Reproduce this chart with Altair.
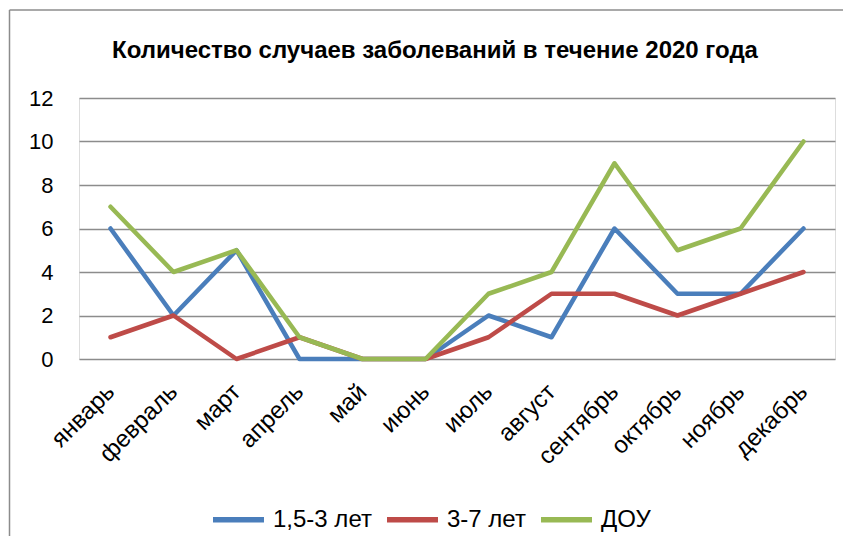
import altair as alt
import pandas as pd

months = ["январь", "февраль", "март", "апрель", "май", "июнь",
          "июль", "август", "сентябрь", "октябрь", "ноябрь", "декабрь"]
series_names = ["1,5-3 лет", "3-7 лет", "ДОУ"]
s_small = [6, 2, 5, 0, 0, 0, 2, 1, 6, 3, 3, 6]
s_mid = [1, 2, 0, 1, 0, 0, 1, 3, 3, 2, 3, 4]
s_dou = [7, 4, 5, 1, 0, 0, 3, 4, 9, 5, 6, 10]
colors = ["#4A7EBB", "#BE4B48", "#98B954"]

rows = []
for name, vals in zip(series_names, [s_small, s_mid, s_dou]):
    for i, (m, v) in enumerate(zip(months, vals)):
        rows.append({"month": m, "value": v, "series": name, "order": i})
df = pd.DataFrame(rows)

FONT = "Liberation Sans"
W, H = 756, 261

lines = alt.Chart(df).mark_line(strokeWidth=4.5, strokeCap="round", strokeJoin="round").encode(
    x=alt.X("month:N", sort=months, title=None,
            axis=alt.Axis(labelAngle=-45, labelFontSize=24, labelColor="#000",
                          labelFont=FONT, ticks=False, domain=False, labelPadding=29,
                          labelAlign="right", labelBaseline="middle")),
    y=alt.Y("value:Q", title=None, scale=alt.Scale(domain=[0, 12]),
            axis=alt.Axis(values=[0, 2, 4, 6, 8, 10, 12], labelFontSize=22, labelColor="#000",
                          labelFont=FONT, ticks=False, domain=False, labelPadding=26,
                          gridColor="#8C8C8C", gridWidth=1.5)),
    color=alt.Color("series:N", sort=series_names,
                    scale=alt.Scale(domain=series_names, range=colors),
                    legend=alt.Legend(title=None, orient="none", direction="horizontal",
                                      legendX=131, legendY=393,
                                      symbolType="stroke", symbolStrokeWidth=5.5, symbolSize=2600,
                                      labelFontSize=24, labelFont=FONT, labelColor="#000",
                                      labelOffset=6, columnPadding=4)),
    order="order:Q",
)

frame_df = pd.DataFrame({"k": [0]})
left_edge = alt.Chart(frame_df).mark_rule(color="#8C8C8C", strokeWidth=1.5).encode(
    x=alt.value(-69.5), y=alt.value(-88), y2=alt.value(H + 200))
top_edge = alt.Chart(frame_df).mark_rule(color="#8C8C8C", strokeWidth=1.5).encode(
    x=alt.value(-69.5), x2=alt.value(W + 20), y=alt.value(-88))

chart = alt.layer(left_edge, top_edge, lines).properties(
    width=W, height=H,
    title=alt.TitleParams("Количество случаев заболеваний в течение 2020 года",
                          font=FONT, fontSize=24, fontWeight="bold", color="#000",
                          offset=0, dy=54, anchor="middle", dx=-22),
    padding={"left": 71, "top": 90, "right": 8, "bottom": 177},
    autosize=alt.AutoSizeParams(type="none"),
).configure_view(stroke=None).configure(background="white")

chart.save("out.html", embed_options={"renderer": "svg", "actions": False})
